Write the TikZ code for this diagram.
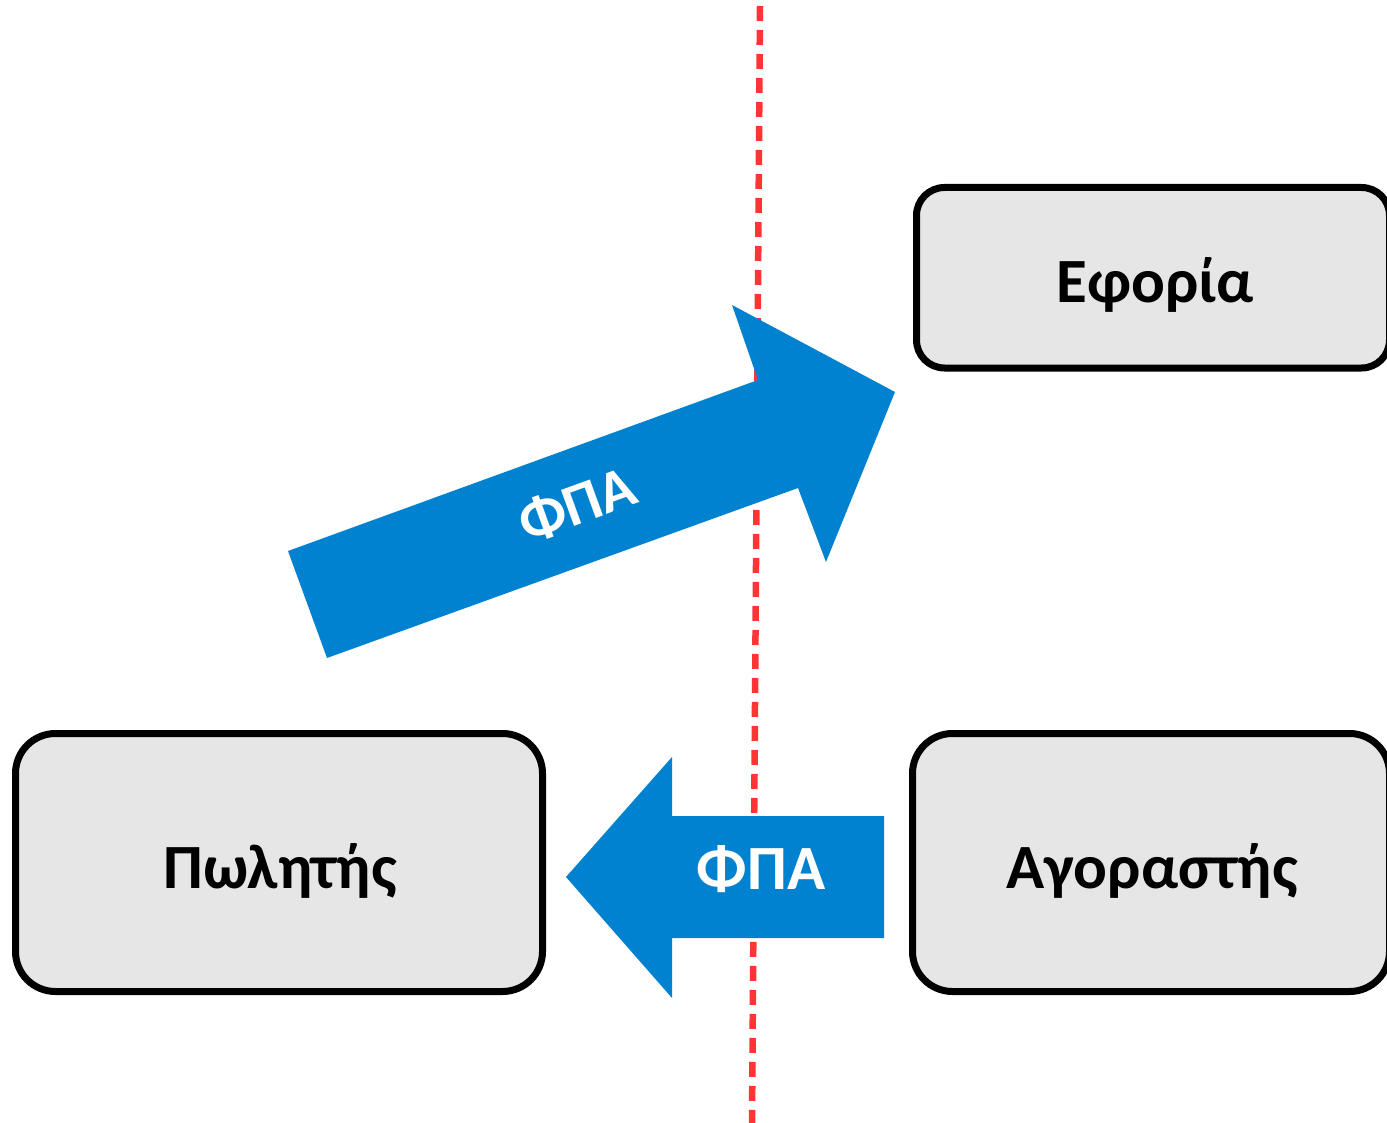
\documentclass[tikz,border=0pt]{standalone}
\usepackage{fontspec}
\setmainfont{Carlito}
\definecolor{vatblue}{HTML}{0082D0}
\definecolor{boxgray}{HTML}{E6E6E6}
\definecolor{linered}{HTML}{FF3535}
\begin{document}
\begin{tikzpicture}[x=1pt,y=-1pt,
  entity/.style={draw=black, line width=7pt, fill=boxgray, rounded corners=#1,
                 inner sep=0pt, outer sep=0pt},
  entlabel/.style={anchor=base, inner sep=0pt, font=\fontsize{63}{63}\selectfont\bfseries, text=black},
  vatlabel/.style={inner sep=0pt, font=\fontsize{#1}{#1}\selectfont\bfseries, text=white},
  blockarrow/.style={fill=vatblue, draw=none},
  border/.style={draw=linered, line width=6.5pt, dash pattern=on 15pt off 9pt}]
\useasboundingbox (0,0) rectangle (1387,1123);

% dashed border line
\coordinate (top) at (760,6);
\coordinate (bot) at (752,1123);
\draw[border] (top) -- (bot);

% boxes
\node[entity=28, minimum width=473pt, minimum height=180.5pt] (ef) at (1153,277.75) {};
\node[entity=40, minimum width=527pt, minimum height=258pt] (pw) at (279,862.5) {};
\node[entity=40, minimum width=477pt, minimum height=258pt] (ag) at (1151,862.5) {};

\node[entlabel] (eftext) at (1155,303) {Εφορία};
\node[entlabel] (pwtext) at (280,888) {Πωλητής};
\node[entlabel] (agtext) at (1152,888) {Αγοραστής};

% diagonal arrow (seller -> tax office)
\fill[blockarrow] (288,551) -- (758,380) -- (732,305) -- (895,392) -- (826,562)
   -- (798,488) -- (327,658) -- cycle;
\node[vatlabel=59, rotate=20] (vat1) at (577,505) {ΦΠΑ};

% horizontal arrow (buyer -> seller)
\fill[blockarrow] (884,816) -- (672,816) -- (672,757) -- (566,877) -- (672,998)
   -- (672,938) -- (884,938) -- cycle;
\node[vatlabel=63, anchor=base] (vat2) at (761,889) {ΦΠΑ};
\end{tikzpicture}
\end{document}
